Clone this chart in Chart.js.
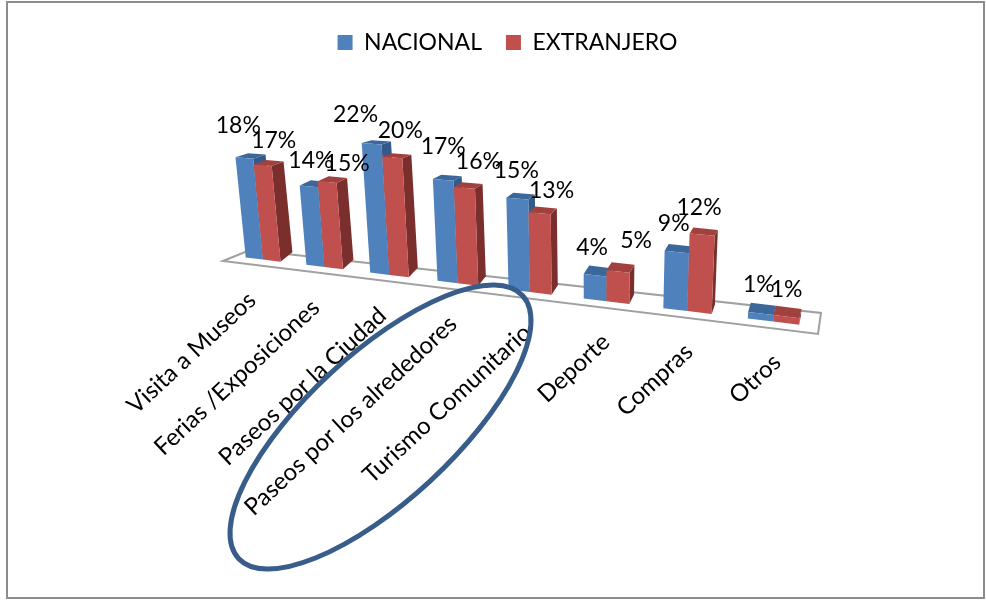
<!DOCTYPE html>
<html>
<head>
<meta charset="utf-8">
<script src="https://cdn.jsdelivr.net/npm/chart.js@4"></script>
<style>
    body { margin: 0; background: #fff; }
    canvas { display: block; }
</style>
</head>
<body>
<canvas id="actividadesChart" width="986" height="600"></canvas>
<script>
const categories = ['Visita a Museos', 'Ferias /Exposiciones', 'Paseos por la Ciudad', 'Paseos por los alrededores',
    'Turismo Comunitario', 'Deporte', 'Compras', 'Otros'];
const nacional = [18, 14, 22, 17, 15, 4, 9, 1];
const extranjero = [17, 15, 20, 16, 13, 5, 12, 1];

const FONT = 'Lato, "Open Sans", sans-serif';
const faces = [
    { front: '#4F81BD', top: '#3C679B', side: '#325A8A' },
    { front: '#C0504D', top: '#A0413E', side: '#7A2F2D' }
];
// where each value label sits relative to the top of its bar (they were placed by hand in the original)
const labelShift = [
    [[-6, -32], [2, -26], [-16, -29], [0, -33], [-1, -28], [-3, -28], [-3, -28], [-2, -29]],
    [[11, -25], [20, -19], [8, -27], [14, -26], [12, -23], [18, -31], [-3, -27], [0, -27]]
];

// Perspective of the front plane of the bars: u is 0..1 along the x scale, v is the value in %
function project(u, v) {
    const w = 1 - 0.2 * u - 0.0016 * v;
    return [(421.2 * u - 0.944 * v + 233.4) / w, (5.6 * u - 5.79 * v + 256) / w];
}

function depthOf(u, v) {
    return [13 - 11.5 * u, -(9.5 - 0.3 * v)];
}

function poly(ctx, pts, color) {
    ctx.beginPath();
    pts.forEach((p, i) => i ? ctx.lineTo(p[0], p[1]) : ctx.moveTo(p[0], p[1]));
    ctx.closePath();
    ctx.fillStyle = color;
    ctx.fill();
}

const perspectiveBars = {
    id: 'perspectiveBars',
    beforeDraw(chart) {
        const ctx = chart.ctx;
        ctx.save();
        ctx.fillStyle = '#fff';
        ctx.fillRect(0, 0, chart.width, chart.height);
        ctx.strokeStyle = '#8c8c8c';
        ctx.lineWidth = 2;
        ctx.strokeRect(7, 2, 977, 596);
        ctx.restore();
    },
    // draws the bars itself from the scale positions, the flat drawing is skipped
    beforeDatasetsDraw(chart) {
        const ctx = chart.ctx;
        const area = chart.chartArea;
        const yScale = chart.scales.y;
        const toU = x => (x - area.left) / area.width;

        ctx.save();

        // floor
        ctx.beginPath();
        ctx.moveTo(223, 261);
        ctx.lineTo(250, 250);
        ctx.lineTo(821, 313);
        ctx.lineTo(818, 334);
        ctx.closePath();
        ctx.strokeStyle = '#a0a0a0';
        ctx.lineWidth = 2;
        ctx.stroke();

        categories.forEach((cat, i) => {
            chart.data.datasets.forEach((ds, d) => {
                const el = chart.getDatasetMeta(d).data[i];
                const uL = toU(el.x - el.width / 2);
                const uR = toU(el.x + el.width / 2);
                const v = yScale.getValueForPixel(el.y);
                const v0 = yScale.getValueForPixel(el.base);

                const fbl = project(uL, v0), fbr = project(uR, v0);
                const ftl = project(uL, v), ftr = project(uR, v);
                const back = (p, u, val) => {
                    const dd = depthOf(u, val);
                    return [p[0] + dd[0], p[1] + dd[1]];
                };
                poly(ctx, [fbr, ftr, back(ftr, uR, v), back(fbr, uR, v0)], faces[d].side);
                poly(ctx, [ftl, ftr, back(ftr, uR, v), back(ftl, uL, v)], faces[d].top);
                poly(ctx, [fbl, ftl, ftr, fbr], faces[d].front);
            });
        });

        // value labels
        ctx.fillStyle = '#000';
        ctx.font = '23px ' + FONT;
        ctx.textAlign = 'center';
        ctx.textBaseline = 'middle';
        chart.data.datasets.forEach((ds, d) => {
            chart.getDatasetMeta(d).data.forEach((el, i) => {
                const p = project(toU(el.x), yScale.getValueForPixel(el.y));
                ctx.fillText(ds.data[i] + '%', p[0] + labelShift[d][i][0], p[1] + labelShift[d][i][1]);
            });
        });

        // category labels
        ctx.font = '24px ' + FONT;
        ctx.textAlign = 'right';
        categories.forEach((cat, i) => {
            const u = toU(chart.scales.x.getPixelForValue(i));
            const p = project(u, 0);
            ctx.save();
            ctx.translate(p[0] - 12 + 17 * u, p[1] + 37);
            ctx.rotate(-43 * Math.PI / 180);
            ctx.fillText(chart.scales.x.getLabelForValue(i), 0, 0);
            ctx.restore();
        });

        // hand drawn ellipse around two categories
        ctx.beginPath();
        ctx.ellipse(380.5, 427, 193.5, 73.4, -42.8 * Math.PI / 180, 0, Math.PI * 2);
        ctx.strokeStyle = '#385D8A';
        ctx.lineWidth = 5;
        ctx.stroke();

        ctx.restore();
        return false;
    }
};

new Chart(document.getElementById('actividadesChart').getContext('2d'), {
    type: 'bar',
    data: {
        labels: categories,
        datasets: [
            { label: 'NACIONAL', data: nacional, backgroundColor: faces[0].front },
            { label: 'EXTRANJERO', data: extranjero, backgroundColor: faces[1].front }
        ]
    },
    options: {
        responsive: false,
        animation: false,
        categoryPercentage: 0.58,
        barPercentage: 1,
        layout: { padding: { left: 29, top: 7 } },
        scales: {
            x: { display: false },
            y: { display: false, min: 0, max: 25 }
        },
        plugins: {
            tooltip: { enabled: false },
            legend: {
                position: 'top',
                labels: {
                    color: '#000',
                    font: { family: FONT, size: 23 },
                    boxWidth: 15,
                    boxHeight: 15,
                    padding: 24
                }
            }
        }
    },
    plugins: [perspectiveBars]
});
</script>
</body>
</html>
